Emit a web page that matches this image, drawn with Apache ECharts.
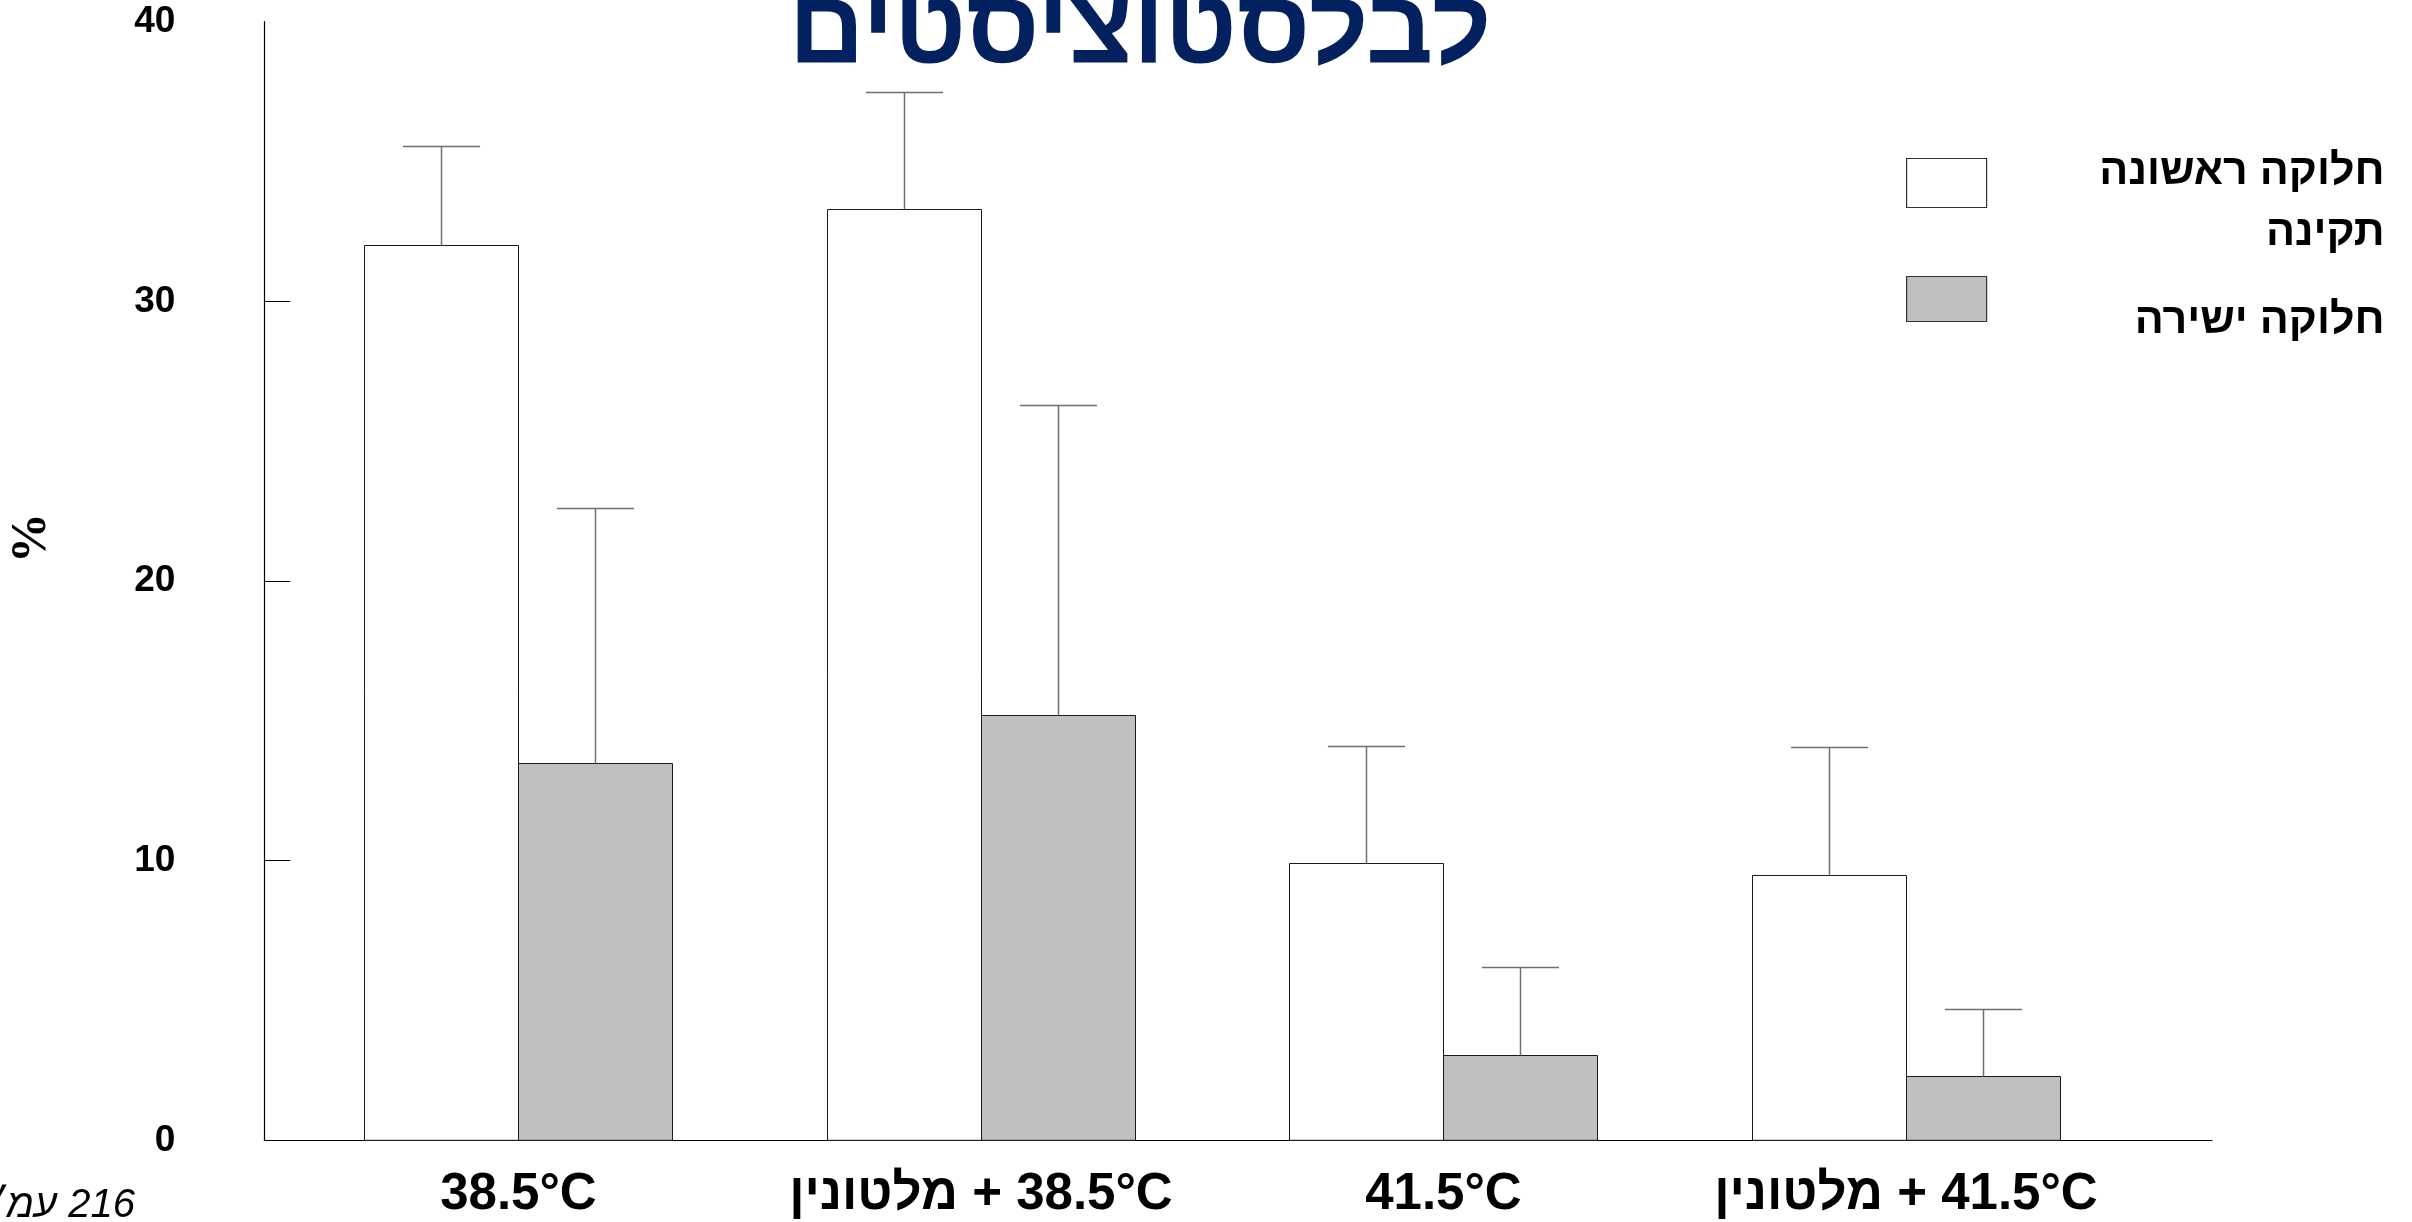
<!DOCTYPE html>
<html>
<head>
<meta charset="utf-8">
<script src="https://cdn.jsdelivr.net/npm/echarts@6/dist/echarts.min.js"></script>
<style>
html,body{margin:0;padding:0;background:#fff;}
#c{width:2412px;height:1222px;}
</style>
</head>
<body>
<div id="c"></div>
<script>
// ---- data ----
const categories = ['38.5°C', '38.5°C + מלטונין', '41.5°C', '41.5°C + מלטונין'];
const seriesNames = ['חלוקה ראשונה תקינה', 'חלוקה ישירה'];
const normalDiv = [32.0, 33.3, 9.9, 9.5];
const normalErr = [3.55, 4.2, 4.2, 4.55];
const directDiv = [13.5, 15.2, 3.05, 2.3];
const directErr = [9.1, 11.1, 3.15, 2.4];
const yTicks = [0, 10, 20, 30, 40];
const titleText = 'לבלסטוציסטים';
const yName = '%';
const sourceNote = 'עמ׳ 216';

// ---- helpers ----
const FONT = '"Liberation Sans", Arimo, Arial, "DejaVu Sans", sans-serif';
const LRM = '\u200E';
function catLabel(s) {
  const k = s.indexOf(' + ');
  if (k < 0) return s;
  return s.slice(k + 3) + LRM + ' + ' + s.slice(0, k);
}
function legendLabel(name) {
  const w = name.split(' ');
  if (w.length > 2) return w.slice(0, 2).join(' ') + '\n' + w.slice(2).join(' ');
  return name;
}
const BAR_FRAC = 1 / 3;
function makeRender(side, fill) {
  return function (params, api) {
    const i = api.value(0), v = api.value(1), e = api.value(2);
    const unit = api.size([1, 0])[0];
    const bw = unit * BAR_FRAC;
    const p0 = api.coord([i, 0]);
    const p1 = api.coord([i, v]);
    const pe = api.coord([i, v + e]);
    const x0 = side === 0 ? p0[0] - bw : p0[0];
    const cx = Math.round(x0 + bw / 2) + 0.5;
    const top = Math.round(p1[1]) + 0.5;
    const et = Math.round(pe[1]) + 0.5;
    return {
      type: 'group',
      children: [
        { type: 'rect', shape: { x: Math.round(x0) + 0.5, y: top, width: Math.round(bw), height: p0[1] - top },
          style: { fill: fill, stroke: '#1a1a1a', lineWidth: 1 } },
        { type: 'line', shape: { x1: cx, y1: top, x2: cx, y2: et },
          style: { stroke: '#707070', lineWidth: 1.5 } },
        { type: 'line', shape: { x1: cx - bw / 4, y1: et, x2: cx + bw / 4, y2: et },
          style: { stroke: '#707070', lineWidth: 1.5 } }
      ]
    };
  };
}
const d0 = categories.map((c, i) => [i, normalDiv[i], normalErr[i]]);
const d1 = categories.map((c, i) => [i, directDiv[i], directErr[i]]);

function legendFor(idx, top, h, fill, padTop) {
  return {
    show: true,
    left: 1906, top: top,
    padding: 0,
    orient: 'vertical',
    icon: 'rect',
    itemWidth: 80, itemHeight: h,
    selectedMode: false,
    data: [{ name: seriesNames[idx], itemStyle: { color: fill, borderColor: '#333', borderWidth: 1.2 } }],
    formatter: n => '{t|' + legendLabel(n) + '}',
    textStyle: {
      fontFamily: FONT, fontWeight: 'bold', fontSize: 43, color: '#000',
      rich: {
        t: { width: 393, align: 'right', fontFamily: FONT, fontWeight: 'bold', fontSize: 43,
             lineHeight: 61, color: '#000', padding: [padTop, 0, 0, 0] }
      }
    }
  };
}

const chart = echarts.init(document.getElementById('c'), null, { renderer: 'canvas' });
chart.setOption({
  animation: false,
  backgroundColor: '#fff',
  grid: { left: 264.3, right: 200, top: 21.7, bottom: 81.7, containLabel: false },
  xAxis: {
    type: 'value', min: -0.5494, max: 3.6618,
    axisLine: { show: true, onZero: false, lineStyle: { color: '#000', width: 1.2 } },
    axisTick: { show: false },
    splitLine: { show: false },
    axisLabel: {
      customValues: [0, 1, 2, 3],
      formatter: v => catLabel(categories[Math.round(v)] || ''),
      fontFamily: FONT, fontWeight: 'bold', fontSize: 51, color: '#000', margin: 29
    }
  },
  yAxis: {
    type: 'value', min: 0, max: 40, interval: 10,
    axisLine: { show: true, onZero: false, lineStyle: { color: '#000', width: 1.2 } },
    axisTick: { show: true, inside: true, length: 26, customValues: [10, 20, 30], lineStyle: { color: '#000', width: 1 } },
    splitLine: { show: false },
    axisLabel: {
      customValues: yTicks,
      fontFamily: FONT, fontWeight: 'bold', fontSize: 37, color: '#000', margin: 89
    }
  },
  legend: [legendFor(0, 111, 49, '#ffffff', 40), legendFor(1, 255, 45, '#c0c0c0', 45)],
  series: [
    { name: seriesNames[0], type: 'custom', renderItem: makeRender(0, '#ffffff'),
      itemStyle: { color: '#ffffff' }, encode: { x: 0, y: 1 }, data: d0, z: 2 },
    { name: seriesNames[1], type: 'custom', renderItem: makeRender(1, '#c0c0c0'),
      itemStyle: { color: '#c0c0c0' }, encode: { x: 0, y: 1 }, data: d1, z: 2 }
  ],
  graphic: [
    { type: 'text', x: 1140, y: 87,
      style: { text: titleText, fill: '#03215F', font: 'bold 105px ' + FONT, align: 'center', verticalAlign: 'bottom' } },
    { type: 'text', x: 32, y: 538, rotation: Math.PI / 2,
      style: { text: yName, fill: '#000', font: 'bold 50px "Liberation Serif", "Times New Roman", serif', align: 'center', verticalAlign: 'middle' } },
    { type: 'text', x: 135, y: 1206,
      style: { text: sourceNote.replace(' ', LRM + ' '), fill: '#000', font: 'italic 40px ' + FONT, align: 'right', verticalAlign: 'middle' } }
  ]
});
</script>
</body>
</html>
